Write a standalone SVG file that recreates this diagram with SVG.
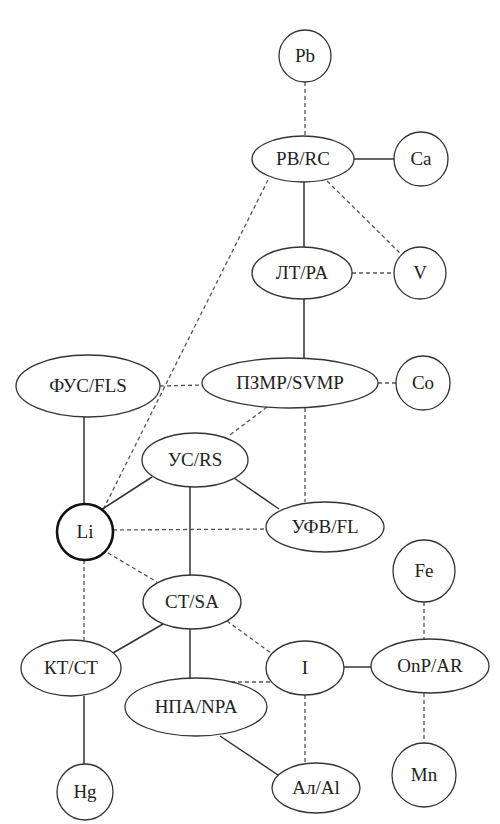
<svg xmlns="http://www.w3.org/2000/svg" width="500" height="824" viewBox="0 0 500 824">
<style>
.n{fill:#fff;stroke:#333;stroke-width:1.3}
.b{fill:#fff;stroke:#111;stroke-width:2.6}
.s{stroke:#333;stroke-width:1.5;fill:none}
.d{stroke:#555;stroke-width:1.3;stroke-dasharray:4 3;fill:none}
</style>
<rect width="500" height="824" fill="#fff"/>
<g id="connectors">
<line class="d" x1="305" y1="82" x2="305" y2="136"/>
<line class="s" x1="354" y1="159" x2="394" y2="159"/>
<line class="s" x1="304" y1="182" x2="304" y2="247"/>
<line class="d" x1="327" y1="181" x2="401" y2="254"/>
<line class="d" x1="268" y1="180" x2="103" y2="510"/>
<line class="d" x1="352" y1="273" x2="394" y2="273"/>
<line class="s" x1="304" y1="299" x2="304" y2="358"/>
<line class="d" x1="160" y1="386" x2="202" y2="385"/>
<line class="d" x1="378" y1="383" x2="396" y2="383"/>
<line class="d" x1="267" y1="407" x2="230" y2="435"/>
<line class="d" x1="305" y1="408" x2="305" y2="502"/>
<line class="s" x1="84" y1="417" x2="84" y2="504"/>
<line class="s" x1="152" y1="477" x2="101" y2="510"/>
<line class="s" x1="234" y1="478" x2="279" y2="509"/>
<line class="s" x1="190" y1="487" x2="190" y2="575"/>
<line class="d" x1="113" y1="530" x2="266" y2="529"/>
<line class="d" x1="108" y1="553" x2="157" y2="582"/>
<line class="d" x1="84" y1="560" x2="84" y2="640"/>
<line class="s" x1="163" y1="624" x2="113" y2="653"/>
<line class="s" x1="190" y1="629" x2="190" y2="678"/>
<line class="d" x1="227" y1="621" x2="271" y2="653"/>
<line class="d" x1="270" y1="682" x2="232" y2="682"/>
<line class="s" x1="343" y1="667" x2="371" y2="667"/>
<line class="d" x1="305" y1="695" x2="305" y2="763"/>
<line class="s" x1="220" y1="736" x2="278" y2="775"/>
<line class="s" x1="84" y1="696" x2="84" y2="764"/>
<line class="d" x1="424" y1="602" x2="424" y2="639"/>
<line class="d" x1="424" y1="693" x2="424" y2="743"/>
</g>
<g id="Pb"><circle class="n" cx="305" cy="56" r="26"/><text font-family="Liberation Serif" font-size="19" text-anchor="middle" fill="#222" x="305" y="62">Pb</text></g>
<g id="PBRC"><ellipse class="n" cx="303" cy="159" rx="51" ry="23"/><text font-family="Liberation Serif" font-size="19" text-anchor="middle" fill="#222" x="303" y="165">PB/RC</text></g>
<g id="Ca"><circle class="n" cx="421" cy="159" r="27"/><text font-family="Liberation Serif" font-size="19" text-anchor="middle" fill="#222" x="421" y="165">Ca</text></g>
<g id="LTPA"><ellipse class="n" cx="302" cy="273" rx="50" ry="26"/><text font-family="Liberation Serif" font-size="19" text-anchor="middle" fill="#222" x="302" y="279">ЛТ/PA</text></g>
<g id="V"><circle class="n" cx="420" cy="273" r="26"/><text font-family="Liberation Serif" font-size="19" text-anchor="middle" fill="#222" x="420" y="279">V</text></g>
<g id="FUSFLS"><ellipse class="n" cx="88" cy="386" rx="72" ry="31"/><text font-family="Liberation Serif" font-size="19" text-anchor="middle" fill="#222" x="88" y="392">ФУС/FLS</text></g>
<g id="PZMRSVMP"><ellipse class="n" cx="290" cy="383" rx="88" ry="25"/><text font-family="Liberation Serif" font-size="19" text-anchor="middle" fill="#222" x="290" y="389">ПЗМР/SVMP</text></g>
<g id="Co"><circle class="n" cx="423" cy="383" r="27"/><text font-family="Liberation Serif" font-size="19" text-anchor="middle" fill="#222" x="423" y="389">Co</text></g>
<g id="USRS"><ellipse class="n" cx="195" cy="460" rx="53" ry="27"/><text font-family="Liberation Serif" font-size="19" text-anchor="middle" fill="#222" x="195" y="466">УС/RS</text></g>
<g id="Li"><circle class="b" cx="85" cy="532" r="28"/><text font-family="Liberation Serif" font-size="19" text-anchor="middle" fill="#222" x="85" y="538">Li</text></g>
<g id="UFVFL"><ellipse class="n" cx="325" cy="527" rx="59" ry="25"/><text font-family="Liberation Serif" font-size="19" text-anchor="middle" fill="#222" x="325" y="533">УФВ/FL</text></g>
<g id="Fe"><circle class="n" cx="424" cy="571" r="31"/><text font-family="Liberation Serif" font-size="19" text-anchor="middle" fill="#222" x="424" y="577">Fe</text></g>
<g id="CTSA"><ellipse class="n" cx="192" cy="602" rx="49" ry="27"/><text font-family="Liberation Serif" font-size="19" text-anchor="middle" fill="#222" x="192" y="608">CT/SA</text></g>
<g id="KTCT"><ellipse class="n" cx="71" cy="668" rx="50" ry="28"/><text font-family="Liberation Serif" font-size="19" text-anchor="middle" fill="#222" x="71" y="674">КТ/CT</text></g>
<g id="I"><ellipse class="n" cx="305" cy="668" rx="39" ry="27"/><text font-family="Liberation Serif" font-size="19" text-anchor="middle" fill="#222" x="305" y="674">I</text></g>
<g id="OnPAR"><ellipse class="n" cx="430" cy="666" rx="59" ry="27"/><text font-family="Liberation Serif" font-size="19" text-anchor="middle" fill="#222" x="430" y="672">OnP/AR</text></g>
<g id="NPANPA"><ellipse class="n" cx="196" cy="707" rx="71" ry="29"/><text font-family="Liberation Serif" font-size="19" text-anchor="middle" fill="#222" x="196" y="713">НПА/NPA</text></g>
<g id="Hg"><circle class="n" cx="85" cy="792" r="28"/><text font-family="Liberation Serif" font-size="19" text-anchor="middle" fill="#222" x="85" y="798">Hg</text></g>
<g id="AlAl"><ellipse class="n" cx="316" cy="788" rx="44" ry="25"/><text font-family="Liberation Serif" font-size="19" text-anchor="middle" fill="#222" x="316" y="794">Ал/Al</text></g>
<g id="Mn"><circle class="n" cx="424" cy="775" r="32"/><text font-family="Liberation Serif" font-size="19" text-anchor="middle" fill="#222" x="424" y="781">Mn</text></g>
</svg>
